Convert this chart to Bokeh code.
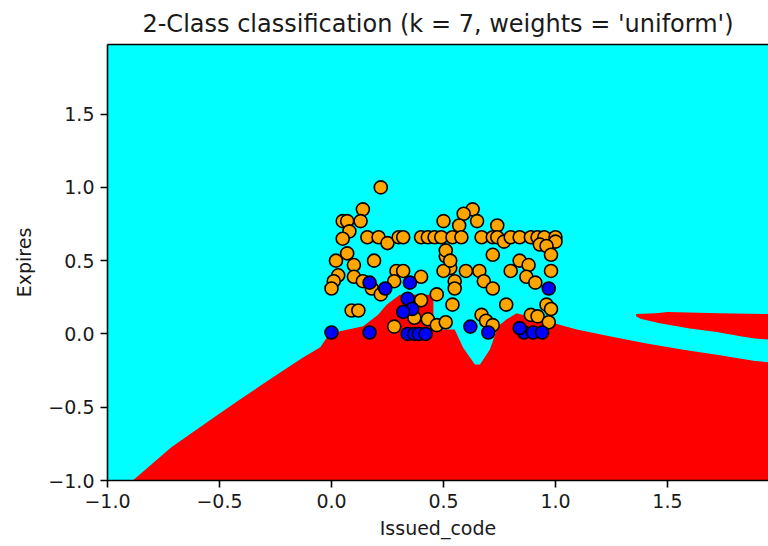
from bokeh.plotting import figure
from bokeh.models import Range1d, FixedTicker, CustomJSTickFormatter, LinearAxis
from bokeh.embed import file_html
from bokeh.resources import INLINE

# ---- data ----
orange_x = [0.22, 0.14, 0.05, 0.07, 0.13, 0.08, 0.05, 0.16, 0.21, 0.25, 0.30, 0.32,
            0.40, 0.43, 0.46, 0.49, 0.54, 0.50, 0.07, 0.02, 0.19, 0.10, 0.29, 0.32,
            0.03, 0.01, 0.00, 0.10, 0.14, 0.18, 0.22, 0.28, 0.40, 0.47, 0.51, 0.53,
            0.50, 0.40, 0.09, 0.12, 0.28, 0.37, 0.43, 0.47, 0.51, 0.54,
            0.63, 0.59, 0.65, 0.57, 0.74, 0.58, 0.67, 0.72, 0.74, 0.77, 0.80, 0.84,
            0.89, 0.92, 0.95, 1.00, 1.00, 0.93, 0.96, 0.51, 0.72, 0.98, 0.53, 0.84,
            0.88, 0.60, 0.66, 0.80, 0.98, 0.87, 0.91, 0.55, 0.55, 0.68, 0.72, 0.78,
            0.96, 0.98, 0.67, 0.69, 0.72, 0.89, 0.92, 0.97]
orange_y = [1.00, 0.85, 0.77, 0.77, 0.77, 0.70, 0.65, 0.66, 0.66, 0.62, 0.66, 0.66,
            0.66, 0.66, 0.66, 0.66, 0.66, 0.77, 0.55, 0.50, 0.50, 0.47, 0.43, 0.43,
            0.40, 0.36, 0.31, 0.39, 0.36, 0.31, 0.27, 0.36, 0.39, 0.27, 0.53, 0.45,
            0.43, 0.23, 0.16, 0.16, 0.05, 0.11, 0.10, 0.06, 0.08, 0.20,
            0.85, 0.82, 0.77, 0.74, 0.74, 0.66, 0.66, 0.66, 0.66, 0.63, 0.66, 0.66,
            0.66, 0.66, 0.66, 0.66, 0.63, 0.61, 0.60, 0.57, 0.54, 0.54, 0.50, 0.50,
            0.47, 0.43, 0.43, 0.43, 0.43, 0.39, 0.35, 0.36, 0.31, 0.36, 0.31, 0.20,
            0.20, 0.17, 0.13, 0.09, 0.06, 0.13, 0.12, 0.08]

blue_x = [0.17, 0.24, 0.35, 0.34, 0.36, 0.32, 0.00, 0.17, 0.34, 0.37, 0.39, 0.42,
          0.97, 0.62, 0.70, 0.86, 0.90, 0.94, 0.84]
blue_y = [0.35, 0.31, 0.35, 0.24, 0.17, 0.15, 0.01, 0.01, 0.00, 0.00, 0.00, 0.00,
          0.31, 0.05, 0.01, 0.01, 0.01, 0.01, 0.04]

# decision regions (red area)
red_x = [-0.887, -0.715, -0.514, -0.417, -0.268, -0.127, -0.05, -0.022, 0.037, 0.141,
         0.208, 0.246, 0.305, 0.455, 0.455, 0.55, 0.588, 0.64, 0.663, 0.707, 0.744,
         0.782, 0.826, 0.99, 1.095, 1.258, 1.407, 1.564, 1.727, 1.891, 2.0, 2.0]
red_y = [-1.0, -0.773, -0.558, -0.456, -0.302, -0.16, -0.09, -0.027, 0.018, 0.052,
         0.131, 0.199, 0.267, 0.267, 0.03, 0.03, -0.095, -0.208, -0.208, -0.106, 0.052,
         0.10, 0.142, 0.075, 0.03, -0.02, -0.065, -0.106, -0.144, -0.185, -0.20, -1.0]
wedge_x = [1.36, 1.36, 1.38, 1.46, 1.60, 1.72, 1.825, 1.89, 2.0, 2.0, 1.94, 1.73, 1.50, 1.45]
wedge_y = [0.136, 0.12, 0.104, 0.075, 0.037, 0.013, -0.016, -0.031, -0.045, 0.136,
           0.136, 0.142, 0.149, 0.142]

tick_vals = [-1.0, -0.5, 0.0, 0.5, 1.0, 1.5]
title_text = "2-Class classification (k = 7, weights = 'uniform')"
FONT = "DejaVu Sans"

p = figure(width=768, height=546, output_backend="svg", toolbar_location=None,
           x_range=Range1d(-1.0, 1.951), y_range=Range1d(-1.0, 1.975),
           min_border_left=107, min_border_right=0, min_border_top=42,
           min_border_bottom=66, title=title_text)

p.background_fill_color = "#00ffff"
p.border_fill_color = "white"
p.outline_line_color = None
p.xgrid.visible = False
p.ygrid.visible = False

p.title.text_font = FONT
p.title.text_font_size = "24px"
p.title.text_font_style = "normal"
p.title.text_color = "#1a1a1a"
p.title.align = "center"
p.title.standoff = 14

p.patch(red_x, red_y, fill_color="#ff0000", line_color=None)
p.patch(wedge_x, wedge_y, fill_color="#ff0000", line_color=None)

p.scatter(orange_x, orange_y, size=13, fill_color="#ffa500", line_color="#000000",
          line_width=1.6)
p.scatter(blue_x, blue_y, size=13, fill_color="#0000ff", line_color="#000000",
          line_width=1.6)

fmt = CustomJSTickFormatter(code="return (tick < 0 ? '\\u2212' : '') + Math.abs(tick).toFixed(1);")
for ax in (p.xaxis[0], p.yaxis[0]):
    ax.ticker = FixedTicker(ticks=tick_vals)
    ax.formatter = fmt
    ax.major_label_text_font = FONT
    ax.major_label_text_font_size = "19px"
    ax.major_label_text_color = "#1a1a1a"
    ax.axis_label_text_font = FONT
    ax.axis_label_text_font_size = "19px"
    ax.axis_label_text_font_style = "normal"
    ax.axis_label_text_color = "#1a1a1a"
    ax.axis_line_width = 1.6
    ax.axis_line_color = "#000000"
    ax.major_tick_line_width = 1.6
    ax.major_tick_out = 7
    ax.major_tick_in = 0
    ax.minor_tick_out = 0
    ax.minor_tick_in = 0
    ax.major_label_standoff = 6

p.xaxis.axis_label = "Issued_code"
p.yaxis.axis_label = "Expires"
p.xaxis.axis_label_standoff = 6
p.yaxis.axis_label_standoff = 10

top = LinearAxis(ticker=FixedTicker(ticks=[]), major_label_text_font_size="0px",
                 major_tick_out=0, major_tick_in=0, minor_tick_out=0, minor_tick_in=0,
                 axis_line_width=1.6, axis_line_color="#000000")
p.add_layout(top, "above")

open("out.html", "w").write(file_html(p, INLINE))
